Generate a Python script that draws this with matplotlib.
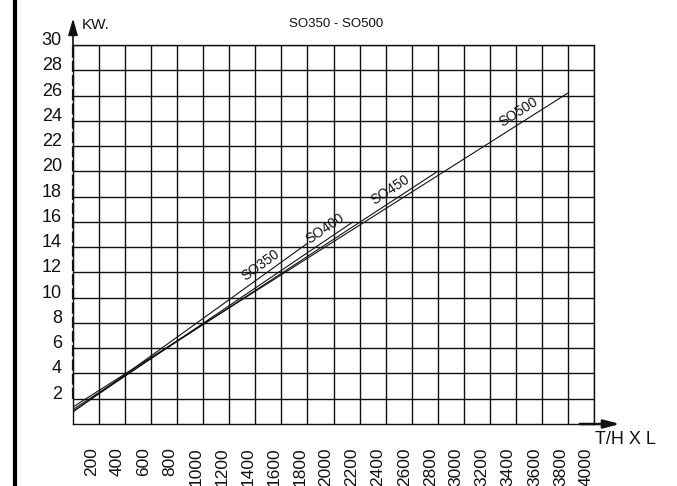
import matplotlib
matplotlib.use("Agg")
import matplotlib.pyplot as plt
import matplotlib.transforms as mtransforms
import numpy as np
from matplotlib.lines import Line2D

# Power curves per model: straight lines from zero flow to the top of each model's range
models = ["SO350", "SO400", "SO450", "SO500"]
flow_end = [1800, 2150, 2800, 3800]          # T/H x L
kw_start = [0.95, 1.0, 1.15, 1.35]           # kW at zero flow
kw_end = [14.3, 16.0, 20.0, 26.2]            # kW at end of range
label_frac = [0.80, 0.90, 0.87, 0.90]        # where along each line its name sits

x_ticks = list(range(200, 4001, 200))
y_ticks = list(range(2, 31, 2))
title = "SO350 - SO500"
x_name = "T/H X L"
y_name = "KW."

W, H = 677, 486
fig = plt.figure(figsize=(W / 100, H / 100), dpi=100)
ax = fig.add_axes([73 / W, 62 / H, 521 / W, 379 / H])

ax.set_xlim(0, 4000)
ax.set_ylim(0, 30)

font = "Liberation Sans"
ink = "#111111"

# grid
ax.set_xticks(x_ticks)
ax.set_yticks(y_ticks)
ax.grid(True, color=ink, lw=1.0)
ax.tick_params(length=0)
for s in ax.spines.values():
    s.set_color(ink)
    s.set_linewidth(1.0)

ax.set_yticklabels([str(v) for v in y_ticks], fontsize=13, family=font, color=ink)
for lab in ax.get_yticklabels():
    lab.set_verticalalignment("baseline")
ax.tick_params(axis="y", pad=8)

ax.set_xticklabels([str(v) for v in x_ticks], fontsize=12.5, family=font,
                   color=ink, rotation=90)
for lab in ax.get_xticklabels():
    lab.set_horizontalalignment("right")
    lab.set_verticalalignment("top")
ax.tick_params(axis="x", pad=17)

# model lines with their names written along them
for name, xe, y0, y1, f in zip(models, flow_end, kw_start, kw_end, label_frac):
    ax.plot([0, xe], [y0, y1], color=ink, lw=0.8, solid_capstyle="butt")
    p0 = ax.transData.transform((0, y0))
    p1 = ax.transData.transform((xe, y1))
    ang = np.degrees(np.arctan2(p1[1] - p0[1], p1[0] - p0[0]))
    lx = f * xe
    ly = y0 + (y1 - y0) * f
    ax.annotate(name, xy=(lx, ly), xytext=(0, 12), textcoords="offset pixels",
                rotation=ang, rotation_mode="anchor", ha="center", va="center",
                fontsize=10, family=font, color=ink)

# vertical axis: dashed heavy line with arrow
ax.plot([0, 0], [2, 30], color=ink, lw=1.6, dashes=(5, 1.4), clip_on=False)
ax.annotate("", xy=(0, 32.1), xytext=(0, 29.9), annotation_clip=False,
            arrowprops=dict(arrowstyle="-|>,head_length=1.0,head_width=0.29",
                            mutation_scale=10, color=ink, lw=1.2,
                            shrinkA=0, shrinkB=0))
ax.text(0, 32.1, y_name, fontsize=11, family=font, color=ink,
        ha="left", va="top", clip_on=False,
        transform=ax.transData + mtransforms.ScaledTranslation(9 / 100, 0, fig.dpi_scale_trans))

# horizontal axis arrow
ax.annotate("", xy=(4200, 0), xytext=(3890, 0), annotation_clip=False,
            arrowprops=dict(arrowstyle="-|>,head_length=0.95,head_width=0.25",
                            mutation_scale=10, color=ink, lw=1.8,
                            shrinkA=0, shrinkB=0))
fig.text(595 / W, 1 - 431 / H, x_name, fontsize=13, family=font, color=ink,
         ha="left", va="top")

# title
fig.text(336 / W, 1 - 24 / H, title, fontsize=9.5, family=font, color=ink,
         ha="center", va="center")

# heavy frame bar on the left
fig.add_artist(Line2D([15 / W, 15 / W], [0, 1], transform=fig.transFigure,
                      color="black", lw=3.0))

fig.savefig("out.png", dpi=100)
